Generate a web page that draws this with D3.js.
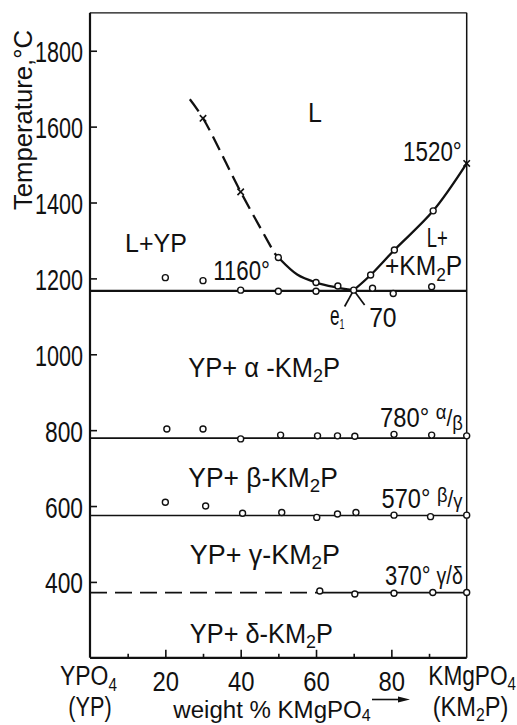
<!DOCTYPE html>
<html>
<head>
<meta charset="utf-8">
<script src="https://cdn.jsdelivr.net/npm/d3@7"></script>
<style>
  html, body { margin: 0; padding: 0; background: #fff; }
  svg { display: block; }
  text { font-family: "Liberation Sans", "DejaVu Sans", sans-serif; fill: #111; }
</style>
</head>
<body>
<svg id="chart" width="517" height="725"></svg>
<script>
// ---- data (x = weight % KMgPO4, y = temperature, °C) ----
const yTicks = [400, 600, 800, 1000, 1200, 1400, 1600, 1800];
const xTicksMajor = [20, 40, 60, 80];
const xTicksMinor = [10, 30, 50, 70, 90];

// horizontal invariant lines
const tEutectic = 1167;
const tAlphaBeta = 779;
const tBetaGamma = 575;
const tGammaDelta = 372;
const gammaDeltaSolidFrom = 60;

// liquidus on the YP side (dashed part, then solid part, then straight stub past e1)
const liqYPDashed = [[26.5, 1672], [30, 1622], [40, 1428], [49, 1266]];
const liqYPSolid = [[49, 1266], [50, 1255], [55, 1210], [60, 1189], [65, 1177], [70, 1169]];
const stubYP = [[70, 1169], [72.9, 1130]];
// liquidus on the KM2P side
const liqKM = [[70, 1169], [74.5, 1209], [80.8, 1275], [91.1, 1378], [100, 1503]];
const stubKM = [[67.6, 1126], [70, 1169]];

// measured points
const crosses = [[30, 1622], [40, 1428], [100, 1503]];
const ptsLiquidus = [[50, 1255], [74.5, 1209], [80.8, 1275], [91.1, 1378]];
const ptsEutectic = [[20, 1202], [30, 1194], [40, 1169], [50, 1166], [60, 1166], [60, 1189], [65.8, 1180], [70, 1169], [75, 1174], [80.5, 1160], [90.7, 1178]];
const ptsAlphaBeta = [[20.4, 803], [30, 803], [40, 777], [50.6, 787], [60.4, 785], [65.7, 785], [70.3, 784], [80.7, 789], [90.7, 787], [100, 785]];
const ptsBetaGamma = [[20, 610], [30.7, 600], [40.5, 581], [50.9, 583], [60.2, 570], [65.7, 579], [70.6, 583], [80.7, 576], [90.4, 572], [100, 576]];
const ptsGammaDelta = [[61, 376], [70.3, 368], [80.7, 370], [91, 372], [100, 372]];

const svg = d3.select("#chart");
const x = d3.scaleLinear().domain([0, 100]).range([90, 466.7]);
const y = d3.scaleLinear().domain([200, 1900]).range([657.8, 12.8]);

const plot = svg.append("g");

// frame
plot.append("line").attr("x1", x(0)).attr("x2", x(0)).attr("y1", y(1900)).attr("y2", y(200))
    .attr("stroke", "#111").attr("stroke-width", 2.2);
plot.append("line").attr("x1", x(0)).attr("x2", x(100)).attr("y1", y(200)).attr("y2", y(200))
    .attr("stroke", "#111").attr("stroke-width", 2.2);
plot.append("line").attr("x1", x(0)).attr("x2", x(100)).attr("y1", y(1900)).attr("y2", y(1900))
    .attr("stroke", "#111").attr("stroke-width", 1.2);
plot.append("line").attr("x1", x(100)).attr("x2", x(100)).attr("y1", y(1900)).attr("y2", y(200))
    .attr("stroke", "#111").attr("stroke-width", 1.5);

// ticks (pointing inwards)
const gy = plot.append("g").attr("transform", `translate(${x(0)},0)`)
    .call(d3.axisRight(y).tickValues(yTicks).tickSize(7).tickFormat(""));
const gx = plot.append("g").attr("transform", `translate(0,${y(200)})`)
    .call(d3.axisTop(x).tickValues(xTicksMajor).tickSize(8).tickFormat(""));
const gx2 = plot.append("g").attr("transform", `translate(0,${y(200)})`)
    .call(d3.axisTop(x).tickValues(xTicksMinor).tickSize(4).tickFormat(""));
[gy, gx, gx2].forEach(g => {
    g.select(".domain").remove();
    g.selectAll(".tick line").attr("stroke", "#111").attr("stroke-width", 1.6);
});

// tick labels (narrow lettering: squeeze to measured width)
gy.selectAll(".tick").append("text").text(d => d)
    .attr("font-size", 29).attr("text-anchor", "end").attr("fill", "#111")
    .attr("x", -7).attr("y", 11)
    .attr("textLength", d => String(d).length === 4 ? 48 : 38)
    .attr("lengthAdjust", "spacingAndGlyphs");
gx.selectAll(".tick").append("text").text(d => d)
    .attr("font-size", 27).attr("text-anchor", "middle").attr("fill", "#111")
    .attr("y", 33.5).attr("textLength", 26.5).attr("lengthAdjust", "spacingAndGlyphs");

// invariant lines
const lineH = (t, x0, x1, w, dash) => plot.append("line")
    .attr("x1", x(x0)).attr("x2", x(x1)).attr("y1", y(t)).attr("y2", y(t))
    .attr("stroke", "#111").attr("stroke-width", w)
    .attr("stroke-dasharray", dash || null);
lineH(tEutectic, 0, 100, 2.4);
lineH(tAlphaBeta, 0, 100, 1.7);
lineH(tBetaGamma, 0, 100, 1.7);
lineH(tGammaDelta, 0, gammaDeltaSolidFrom, 1.7, "17 8");
lineH(tGammaDelta, gammaDeltaSolidFrom, 100, 1.7);

// liquidus curves
const curve = d3.line().x(d => x(d[0])).y(d => y(d[1])).curve(d3.curveCatmullRom.alpha(0.5));
const straight = d3.line().x(d => x(d[0])).y(d => y(d[1]));
const stroke = p => p.attr("fill", "none").attr("stroke", "#111").attr("stroke-width", 2.3);
plot.append("path").datum(liqYPDashed).attr("d", curve).call(stroke).attr("stroke-dasharray", "15 7");
plot.append("path").datum(liqYPSolid).attr("d", curve).call(stroke);
plot.append("path").datum(liqKM).attr("d", curve).call(stroke);
plot.append("path").datum(stubYP).attr("d", straight).call(stroke).attr("stroke-width", 1.7);
plot.append("path").datum(stubKM).attr("d", straight).call(stroke).attr("stroke-width", 1.7);

// crosses
plot.selectAll(".cross").data(crosses).join("path").attr("class", "cross")
    .attr("d", d => {
        const cx = x(d[0]), cy = y(d[1]), s = 3.2;
        return `M${cx - s},${cy - s}L${cx + s},${cy + s}M${cx - s},${cy + s}L${cx + s},${cy - s}`;
    })
    .attr("stroke", "#111").attr("stroke-width", 1.6).attr("fill", "none");

// open circles
const allPts = [].concat(ptsLiquidus, ptsEutectic, ptsAlphaBeta, ptsBetaGamma, ptsGammaDelta);
plot.selectAll(".pt").data(allPts).join("circle").attr("class", "pt")
    .attr("cx", d => x(d[0])).attr("cy", d => y(d[1])).attr("r", 3)
    .attr("fill", "#fff").attr("stroke", "#111").attr("stroke-width", 1.4);

// ---- labels ----
// parts: [text, size, offset below baseline]; the whole label is squeezed to span px0..px1
function label(parts, px0, px1, base, size) {
    const g = svg.append("g");
    const t = g.append("text").attr("font-size", size);
    let prev = 0;
    parts.forEach(p => {
        const off = p[2] || 0;
        t.append("tspan").text(p[0]).attr("font-size", p[1] || size).attr("dy", off - prev);
        prev = off;
    });
    const w = t.node().getBBox().width;
    g.attr("transform", `translate(${px0},${base}) scale(${(px1 - px0) / w},1)`);
    return g;
}
const inPlot = (parts, x0, x1, t, size) => label(parts, x(x0), x(x1), y(t), size || 27);

inPlot([["L"]], 57.9, 61.6, 1612);
inPlot([["1520°"]], 83.1, 98.7, 1509);
inPlot([["L+"]], 89.4, 95.0, 1282);
inPlot([["+KM"], ["2", 19, 6], ["P", 27, 0]], 78.3, 98.8, 1209);
inPlot([["L+YP"]], 9.3, 25.7, 1269, 26);
inPlot([["1160°"]], 32.7, 47.8, 1195);
inPlot([["e"], ["1", 14, 4]], 63.7, 67.6, 1077);
inPlot([["70"]], 74.1, 81.4, 1072);
inPlot([["YP+ α -KM"], ["2", 19, 5], ["P", 27, 0]], 26.1, 66.4, 940);
inPlot([["YP+ β-KM"], ["2", 19, 5], ["P", 27, 0]], 26.1, 65.8, 650);
inPlot([["YP+ γ-KM"], ["2", 19, 5], ["P", 27, 0]], 26.5, 66.4, 447);
inPlot([["YP+ δ-KM"], ["2", 19, 5], ["P", 27, 0]], 26.5, 64.5, 238);
inPlot([["780° "], ["α", 21, -8], ["/", 24, -1], ["β", 21, 3]], 77, 99, 809);
inPlot([["570° "], ["β", 21, -6], ["/", 24, -1], ["γ", 21, 0]], 77.4, 99, 594);
inPlot([["370° "], ["γ", 24, -1], ["/", 25, -1], ["δ", 24, -1]], 78.3, 99, 392);

// outside labels
label([["YPO"], ["4", 18, 6]], 60, 117, 685, 27);
label([["(YP)"]], 68.3, 111.7, 716, 27);
label([["KMgPO"], ["4", 18, 5]], 428.3, 516, 685, 27);
label([["(KM"], ["2", 18, 5], ["P)", 27, 0]], 432.7, 508.3, 716, 27);
label([["weight % KMgPO"], ["4", 16, 3]], 173.3, 372, 718, 24);

// arrow after the axis title
svg.append("line").attr("x1", 372).attr("x2", 400).attr("y1", 699.5).attr("y2", 699.5)
    .attr("stroke", "#111").attr("stroke-width", 1.6);
svg.append("path").attr("d", "M398,696.5L410,699.5L398,702.5Z").attr("fill", "#111");

// y axis title (rotated)
const yt = svg.append("g").attr("transform", "translate(32,210) rotate(-90)");
yt.append("text").text("Temperature,°C").attr("font-size", 26)
    .attr("textLength", 180).attr("lengthAdjust", "spacingAndGlyphs");
</script>
</body>
</html>
